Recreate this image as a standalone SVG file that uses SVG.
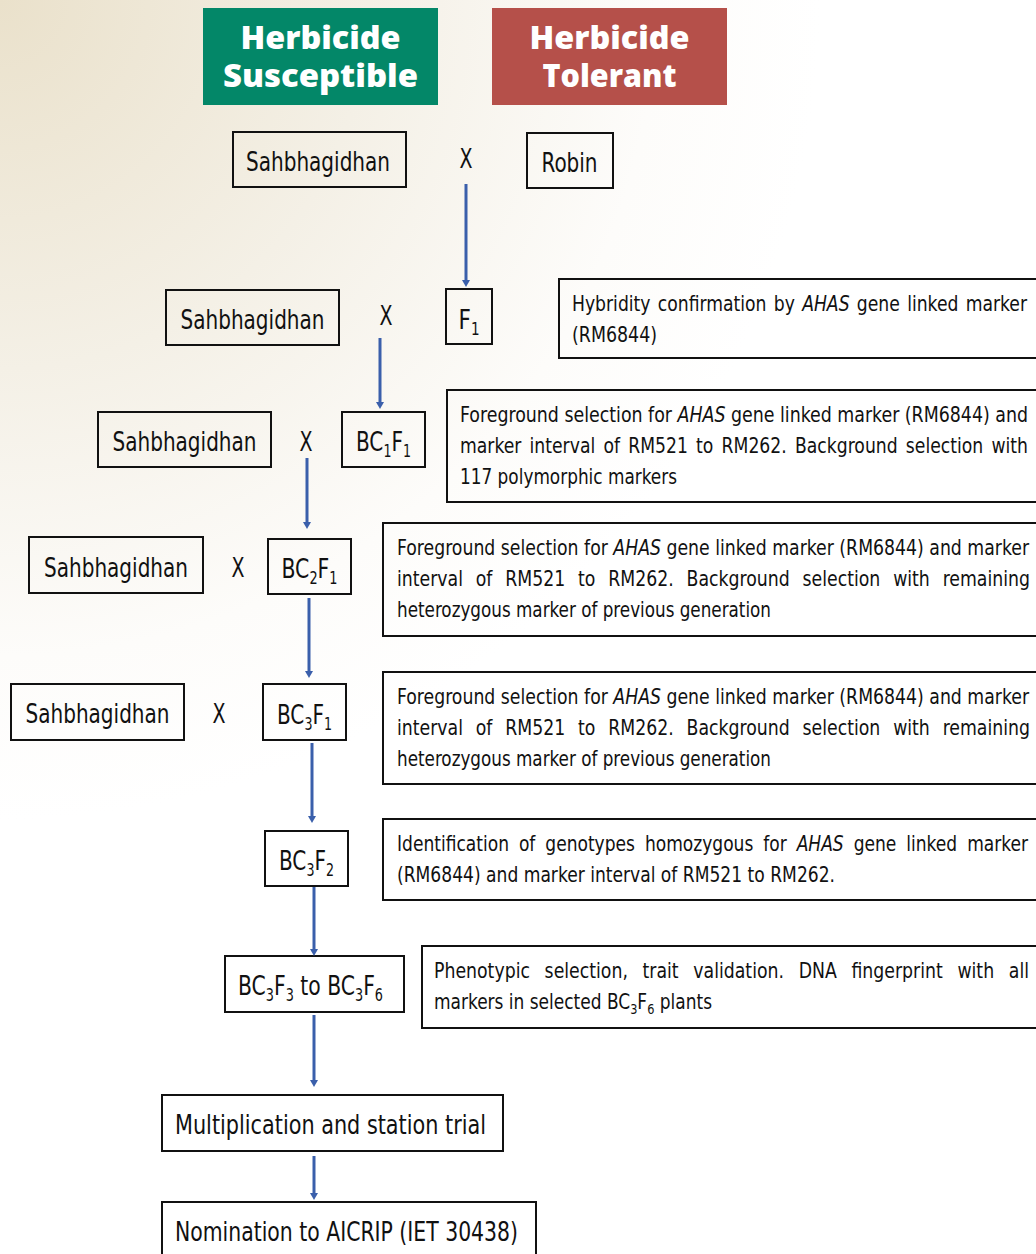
<svg xmlns="http://www.w3.org/2000/svg" width="1036" height="1254" viewBox="0 0 1036 1254">
  <defs>
    <radialGradient id="bg" cx="0" cy="0" r="820" gradientUnits="userSpaceOnUse">
      <stop offset="0" stop-color="#EAE1CB"/>
      <stop offset="0.45" stop-color="#F4F0E6"/>
      <stop offset="0.8" stop-color="#FDFCFA"/>
      <stop offset="1" stop-color="#FFFFFF"/>
    </radialGradient>
    <marker id="ah" markerUnits="userSpaceOnUse" markerWidth="9" markerHeight="9" refX="0" refY="4.5" orient="auto">
      <path d="M0,0.5 L7,4.5 L0,8.5 Z" fill="#3A5FAB"/>
    </marker>
    <style>
      .box { fill: none; stroke: #111; stroke-width: 2; }
      .lbl { font-family: "Liberation Sans Narrow", "DejaVu Sans Condensed", "Liberation Sans", sans-serif; font-size: 27px; fill: #111; text-anchor: middle; }
      .desc { font-family: "Liberation Sans Narrow", "DejaVu Sans Condensed", "Liberation Sans", sans-serif; font-size: 21px; fill: #111; }
      .title { font-family: "Open Sans", "Liberation Sans", sans-serif; font-weight: 800; font-size: 31px; fill: #FFFFFF; text-anchor: middle; }
      .arrow { stroke: #3A5FAB; stroke-width: 3; fill: none; marker-end: url(#ah); }
      .sub { font-size: 17px; }
      .dsub { font-size: 14px; }
    </style>
  </defs>

  <rect x="0" y="0" width="1036" height="1254" fill="url(#bg)"/>

  <!-- Headers -->
  <g id="header-susceptible">
    <rect x="203" y="8" width="235" height="97" fill="#038768"/>
    <text class="title" x="320.5" y="49" textLength="160" lengthAdjust="spacingAndGlyphs">Herbicide</text>
    <text class="title" x="320.5" y="87" textLength="195" lengthAdjust="spacingAndGlyphs">Susceptible</text>
  </g>
  <g id="header-tolerant">
    <rect x="492" y="8" width="235" height="97" fill="#B5504A"/>
    <text class="title" x="609.5" y="49" textLength="160" lengthAdjust="spacingAndGlyphs">Herbicide</text>
    <text class="title" x="609.5" y="87" textLength="134" lengthAdjust="spacingAndGlyphs">Tolerant</text>
  </g>

  <!-- Row 1 -->
  <g id="sahbhagidhan-1">
    <rect class="box" x="233" y="132" width="173" height="55"/>
    <text class="lbl" x="318" y="171" textLength="144" lengthAdjust="spacingAndGlyphs">Sahbhagidhan</text>
  </g>
  <g id="cross-1"><text class="lbl" x="466" y="168" textLength="13" lengthAdjust="spacingAndGlyphs">X</text></g>
  <g id="robin">
    <rect class="box" x="527" y="133" width="86" height="55"/>
    <text class="lbl" x="569.5" y="172" textLength="56" lengthAdjust="spacingAndGlyphs">Robin</text>
  </g>

  <!-- Row 2 -->
  <g id="sahbhagidhan-2">
    <rect class="box" x="166" y="290" width="173" height="55"/>
    <text class="lbl" x="252.5" y="329" textLength="144" lengthAdjust="spacingAndGlyphs">Sahbhagidhan</text>
  </g>
  <g id="cross-2"><text class="lbl" x="386" y="325" textLength="13" lengthAdjust="spacingAndGlyphs">X</text></g>
  <g id="f1">
    <rect class="box" x="446" y="289" width="46" height="55"/>
    <text class="lbl" x="469" y="329" textLength="21" lengthAdjust="spacingAndGlyphs">F<tspan class="sub" dy="6">1</tspan></text>
  </g>
  <g id="note-hybridity">
    <rect class="box" x="559" y="279" width="490" height="79"/>
    <text class="desc" x="572" y="311" textLength="455" lengthAdjust="spacingAndGlyphs" style="word-spacing:2px">Hybridity confirmation by <tspan font-style="italic">AHAS</tspan> gene linked marker</text>
    <text class="desc" x="572" y="342" textLength="85" lengthAdjust="spacingAndGlyphs">(RM6844)</text>
  </g>

  <!-- Row 3 -->
  <g id="sahbhagidhan-3">
    <rect class="box" x="98" y="412" width="173" height="55"/>
    <text class="lbl" x="184.5" y="451" textLength="144" lengthAdjust="spacingAndGlyphs">Sahbhagidhan</text>
  </g>
  <g id="cross-3"><text class="lbl" x="306" y="451" textLength="13" lengthAdjust="spacingAndGlyphs">X</text></g>
  <g id="bc1f1">
    <rect class="box" x="342" y="412" width="83" height="55"/>
    <text class="lbl" x="383.5" y="451" textLength="55" lengthAdjust="spacingAndGlyphs">BC<tspan class="sub" dy="6">1</tspan><tspan dy="-6">F</tspan><tspan class="sub" dy="6">1</tspan></text>
  </g>
  <g id="note-bc1f1">
    <rect class="box" x="447" y="390" width="600" height="112"/>
    <text class="desc" x="460" y="422" textLength="568" lengthAdjust="spacingAndGlyphs">Foreground selection for <tspan font-style="italic">AHAS</tspan> gene linked marker (RM6844) and</text>
    <text class="desc" x="460" y="453" textLength="568" lengthAdjust="spacingAndGlyphs" style="word-spacing:3px">marker interval of RM521 to RM262. Background selection with</text>
    <text class="desc" x="460" y="484" textLength="217" lengthAdjust="spacingAndGlyphs">117 polymorphic markers</text>
  </g>

  <!-- Row 4 -->
  <g id="sahbhagidhan-4">
    <rect class="box" x="29" y="537" width="174" height="56"/>
    <text class="lbl" x="116" y="577" textLength="144" lengthAdjust="spacingAndGlyphs">Sahbhagidhan</text>
  </g>
  <g id="cross-4"><text class="lbl" x="238" y="577" textLength="13" lengthAdjust="spacingAndGlyphs">X</text></g>
  <g id="bc2f1">
    <rect class="box" x="268" y="539" width="83" height="55"/>
    <text class="lbl" x="309.5" y="578" textLength="56" lengthAdjust="spacingAndGlyphs">BC<tspan class="sub" dy="6">2</tspan><tspan dy="-6">F</tspan><tspan class="sub" dy="6">1</tspan></text>
  </g>
  <g id="note-bc2f1">
    <rect class="box" x="383" y="523" width="664" height="113"/>
    <text class="desc" x="397" y="555" textLength="632" lengthAdjust="spacingAndGlyphs">Foreground selection for <tspan font-style="italic">AHAS</tspan> gene linked marker (RM6844) and marker</text>
    <text class="desc" x="397" y="586" textLength="633" lengthAdjust="spacingAndGlyphs" style="word-spacing:8px">interval of RM521 to RM262. Background selection with remaining</text>
    <text class="desc" x="397" y="617" textLength="374" lengthAdjust="spacingAndGlyphs">heterozygous marker of previous generation</text>
  </g>

  <!-- Row 5 -->
  <g id="sahbhagidhan-5">
    <rect class="box" x="11" y="684" width="173" height="56"/>
    <text class="lbl" x="97.5" y="723" textLength="144" lengthAdjust="spacingAndGlyphs">Sahbhagidhan</text>
  </g>
  <g id="cross-5"><text class="lbl" x="219" y="723" textLength="13" lengthAdjust="spacingAndGlyphs">X</text></g>
  <g id="bc3f1">
    <rect class="box" x="263" y="684" width="83" height="56"/>
    <text class="lbl" x="304.5" y="724" textLength="55" lengthAdjust="spacingAndGlyphs">BC<tspan class="sub" dy="6">3</tspan><tspan dy="-6">F</tspan><tspan class="sub" dy="6">1</tspan></text>
  </g>
  <g id="note-bc3f1">
    <rect class="box" x="383" y="672" width="664" height="112"/>
    <text class="desc" x="397" y="704" textLength="632" lengthAdjust="spacingAndGlyphs">Foreground selection for <tspan font-style="italic">AHAS</tspan> gene linked marker (RM6844) and marker</text>
    <text class="desc" x="397" y="735" textLength="633" lengthAdjust="spacingAndGlyphs" style="word-spacing:8px">interval of RM521 to RM262. Background selection with remaining</text>
    <text class="desc" x="397" y="766" textLength="374" lengthAdjust="spacingAndGlyphs">heterozygous marker of previous generation</text>
  </g>

  <!-- BC3F2 -->
  <g id="bc3f2">
    <rect class="box" x="265" y="831" width="83" height="55"/>
    <text class="lbl" x="306.5" y="870" textLength="55" lengthAdjust="spacingAndGlyphs">BC<tspan class="sub" dy="6">3</tspan><tspan dy="-6">F</tspan><tspan class="sub" dy="6">2</tspan></text>
  </g>
  <g id="note-bc3f2">
    <rect class="box" x="383" y="819" width="664" height="81"/>
    <text class="desc" x="397" y="851" textLength="631" lengthAdjust="spacingAndGlyphs" style="word-spacing:5px">Identification of genotypes homozygous for <tspan font-style="italic">AHAS</tspan> gene linked marker</text>
    <text class="desc" x="397" y="882" textLength="438" lengthAdjust="spacingAndGlyphs">(RM6844) and marker interval of RM521 to RM262.</text>
  </g>

  <!-- BC3F3 to BC3F6 -->
  <g id="bc3f3-bc3f6">
    <rect class="box" x="225" y="956" width="179" height="56"/>
    <text class="lbl" x="310.5" y="995" textLength="145" lengthAdjust="spacingAndGlyphs">BC<tspan class="sub" dy="6">3</tspan><tspan dy="-6">F</tspan><tspan class="sub" dy="6">3</tspan><tspan dy="-6"> to BC</tspan><tspan class="sub" dy="6">3</tspan><tspan dy="-6">F</tspan><tspan class="sub" dy="6">6</tspan></text>
  </g>
  <g id="note-bc3f6">
    <rect class="box" x="422" y="946" width="625" height="82"/>
    <text class="desc" x="434" y="978" textLength="595" lengthAdjust="spacingAndGlyphs" style="word-spacing:10px">Phenotypic selection, trait validation. DNA fingerprint with all</text>
    <text class="desc" x="434" y="1009" textLength="278" lengthAdjust="spacingAndGlyphs">markers <tspan style="word-spacing:0">in</tspan> selected BC<tspan class="dsub" dy="5">3</tspan><tspan dy="-5">F</tspan><tspan class="dsub" dy="5">6</tspan><tspan dy="-5"> plants</tspan></text>
  </g>

  <!-- Multiplication -->
  <g id="multiplication">
    <rect class="box" x="162" y="1095" width="341" height="56"/>
    <text class="lbl" x="330.5" y="1134" textLength="311" lengthAdjust="spacingAndGlyphs">Multiplication and station trial</text>
  </g>

  <!-- Nomination -->
  <g id="nomination">
    <rect class="box" x="162" y="1202" width="374" height="60"/>
    <text class="lbl" x="346.5" y="1241" textLength="343" lengthAdjust="spacingAndGlyphs">Nomination to AICRIP (IET 30438)</text>
  </g>

  <!-- Connectors -->
  <g id="connectors">
    <line class="arrow" x1="466" y1="184" x2="466" y2="280"/>
    <line class="arrow" x1="380" y1="338" x2="380" y2="402"/>
    <line class="arrow" x1="307" y1="458" x2="307" y2="522"/>
    <line class="arrow" x1="309" y1="598" x2="309" y2="671"/>
    <line class="arrow" x1="312" y1="743" x2="312" y2="816"/>
    <line class="arrow" x1="314" y1="887" x2="314" y2="949"/>
    <line class="arrow" x1="314" y1="1015" x2="314" y2="1080"/>
    <line class="arrow" x1="314" y1="1156" x2="314" y2="1193"/>
  </g>
</svg>
